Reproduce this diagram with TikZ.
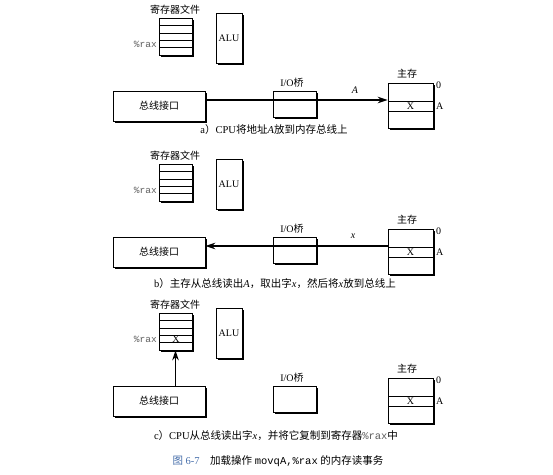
\documentclass[tikz,border=0pt]{standalone}
\usepackage{fontspec}
\setmainfont{Liberation Serif}
\setmonofont{Liberation Mono}
\newfontfamily\cjk{Noto Sans CJK SC}
\usetikzlibrary{shadows,arrows.meta}
\newcommand\zh[1]{{\cjk #1}}
\definecolor{figblue}{RGB}{70,110,170}
\definecolor{regtt}{RGB}{95,95,95}
\tikzset{
  shbox/.style={draw, fill=white, line width=0.6pt, inner sep=0pt,
    drop shadow={shadow xshift=1.5pt, shadow yshift=-1.5pt, fill=black, opacity=1}},
  lbl/.style={font=\fontsize{10}{12}\selectfont, inner sep=0pt},
  captext/.style={font=\fontsize{10.5}{12}\selectfont, inner sep=0pt},
  busline/.style={line width=1.4pt},
  tipped/.style={-{Stealth[length=10pt,width=6.5pt]}},
  rowline/.style={line width=0.6pt}
}
% #1 prefix, #2 vertical offset
\newcommand\drawpanel[2]{%
  \node[lbl] (#1-rl) at (175, 10+#2) {\zh{寄存器文件}};
  \node[shbox, minimum width=33pt, minimum height=37pt] (#1-reg) at (175.5, 36.5+#2) {};
  \foreach \k in {1,...,4} {\draw[rowline] (159, 18+7.4*\k+#2) -- (192, 18+7.4*\k+#2);}
  \node[lbl, anchor=east, font=\fontsize{9.5}{11}\ttfamily, text=regtt] (#1-rax) at (157, 44+#2) {\%rax};
  \node[shbox, minimum width=26pt, minimum height=50pt, font=\fontsize{10}{12}\selectfont] (#1-alu) at (229, 38+#2) {ALU};
  \node[shbox, minimum width=92pt, minimum height=30pt, font=\fontsize{10}{12}\selectfont] (#1-bus) at (159, 106+#2) {\zh{总线接口}};
  \node[lbl] (#1-iol) at (292, 83+#2) {I/O\zh{桥}};
  \node[shbox, minimum width=43pt, minimum height=26pt] (#1-br) at (294.5, 104+#2) {};
  \node[lbl] (#1-ml) at (407, 74+#2) {\zh{主存}};
  \node[shbox, minimum width=45pt, minimum height=45pt] (#1-mem) at (410.5, 105.5+#2) {};
  \draw[rowline] (388, 101+#2) -- (433, 101+#2);
  \draw[rowline] (388, 111+#2) -- (433, 111+#2);
  \node[lbl] (#1-mx) at (410.5, 106.5+#2) {X};
  \node[lbl, anchor=west] (#1-m0) at (436, 85+#2) {0};
  \node[lbl, anchor=west] (#1-ma) at (436, 106.5+#2) {A};
  \coordinate (#1-ly) at (0, 100+#2);
}
\begin{document}
\begin{tikzpicture}[x=1pt, y=-1pt]
  \path[use as bounding box] (0,0) rectangle (553,474);
  % panel a
  \drawpanel{a}{0}
  \draw[busline, tipped] (a-bus.east |- a-ly) -- (a-mem.west |- a-ly);
  \node[lbl] (a-lab) at (355, 90) {\textit{A}};
  \node[captext] (a-cap) at (274, 130) {a\zh{）}CPU\zh{将地址}\textit{A}\zh{放到内存总线上}};
  % panel b
  \drawpanel{b}{146}
  \draw[busline, tipped] (b-mem.west |- b-ly) -- (b-bus.east |- b-ly);
  \node[lbl] (b-lab) at (353, 236) {\textit{x}};
  \node[captext] (b-cap) at (275, 284) {b\zh{）主存从总线读出}\textit{A}\zh{，取出字}\textit{x}\zh{，然后将}\textit{x}\zh{放到总线上}};
  % panel c
  \drawpanel{c}{295}
  \node[lbl] (c-rx) at (176, 339) {X};
  \draw[busline, tipped] (c-reg.south |- c-bus.north) -- (c-reg.south);
  \node[captext] (c-cap) at (276, 436) {c\zh{）}CPU\zh{从总线读出字}\textit{x}\zh{，并将它复制到寄存器}{\ttfamily\color{regtt}\%rax}\zh{中}};
  % figure caption
  \node[captext] (fig) at (278, 461) {{\color{figblue}\zh{图} 6-7}\quad\zh{加载操作} {\ttfamily movqA,\%rax} \zh{的内存读事务}};
\end{tikzpicture}
\end{document}
